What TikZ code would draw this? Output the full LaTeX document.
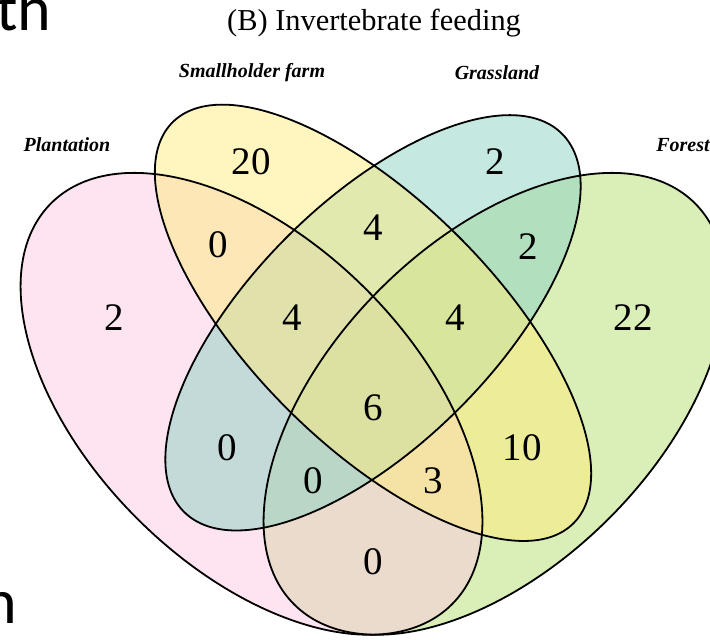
\documentclass[tikz,border=0pt]{standalone}
\usepackage{fontspec}
\setmainfont{Liberation Serif}
\newfontfamily\calib{Carlito}
\definecolor{cforest}{RGB}{181,221,111}
\definecolor{cplant}{RGB}{251,201,225}
\definecolor{cgrass}{RGB}{139,209,195}
\definecolor{csmall}{RGB}{255,235,125}
\tikzset{
  setfill/.style={fill=#1, fill opacity=0.5, draw=none},
  setline/.style={draw=black, line width=0.9pt, fill=none},
  num/.style={font=\fontsize{19.5pt}{20pt}\selectfont, inner sep=0pt},
  setlabel/.style={font=\fontsize{10pt}{11pt}\selectfont\bfseries\itshape, inner sep=0pt},
  titlelabel/.style={font=\fontsize{15.2pt}{16pt}\selectfont, inner sep=0pt},
  frag/.style={font=\calib\fontsize{32pt}{34pt}\selectfont, inner sep=0pt}
}
\begin{document}
\begin{tikzpicture}[x=0.5pt,y=-0.5pt]
\useasboundingbox (0,0) rectangle (710,639);
\clip (0,0) rectangle (710,639);
\begin{scope}[shift={(-16pt,-392.25pt)}, x=405pt, y=405pt]
  % fills (order: forest, plantation, grassland, smallholder)
  \path[setfill=cforest, rotate around={45:(0.65,0.47)}] (0.65,0.47) ellipse [x radius=0.35, y radius=0.20];
  \path[setfill=cplant, rotate around={135:(0.35,0.47)}] (0.35,0.47) ellipse [x radius=0.35, y radius=0.20];
  \path[setfill=cgrass, rotate around={45:(0.5,0.57)}] (0.5,0.57) ellipse [x radius=0.33, y radius=0.15];
  \path[setfill=csmall, rotate around={135:(0.5,0.57)}] (0.5,0.57) ellipse [x radius=0.35, y radius=0.15];
  % outlines
  \path[setline, rotate around={45:(0.65,0.47)}] (0.65,0.47) ellipse [x radius=0.35, y radius=0.20];
  \path[setline, rotate around={135:(0.35,0.47)}] (0.35,0.47) ellipse [x radius=0.35, y radius=0.20];
  \path[setline, rotate around={45:(0.5,0.57)}] (0.5,0.57) ellipse [x radius=0.33, y radius=0.15];
  \path[setline, rotate around={135:(0.5,0.57)}] (0.5,0.57) ellipse [x radius=0.35, y radius=0.15];
\end{scope}
% title and set labels
\node[titlelabel] (title) at (374,23) {(B) Invertebrate feeding};
\node[setlabel] (lsmall) at (252,73) {Smallholder farm};
\node[setlabel] (lgrass) at (497,73) {Grassland};
\node[setlabel] (lplant) at (67,145) {Plantation};
\node[setlabel] (lforest) at (683,145) {Forest};
% region counts
\node[num] (n1) at (114,318) {2};
\node[num] (n2) at (251,162) {20};
\node[num] (n3) at (495,162) {2};
\node[num] (n4) at (633,318) {22};
\node[num] (n5) at (218,245) {0};
\node[num] (n6) at (373,228) {4};
\node[num] (n7) at (528,247) {2};
\node[num] (n8) at (292,318) {4};
\node[num] (n9) at (455,318) {4};
\node[num] (n10) at (373,408) {6};
\node[num] (n11) at (227,448) {0};
\node[num] (n12) at (522,448) {10};
\node[num] (n13) at (313,481) {0};
\node[num] (n14) at (433,481) {3};
\node[num] (n15) at (373,562) {0};
% cut-off text fragments at the left edge
\node[frag, anchor=base east] (fragth) at (52,30) {th};
\node[frag, anchor=base east] (fragn) at (18,623) {n};
\end{tikzpicture}
\end{document}
